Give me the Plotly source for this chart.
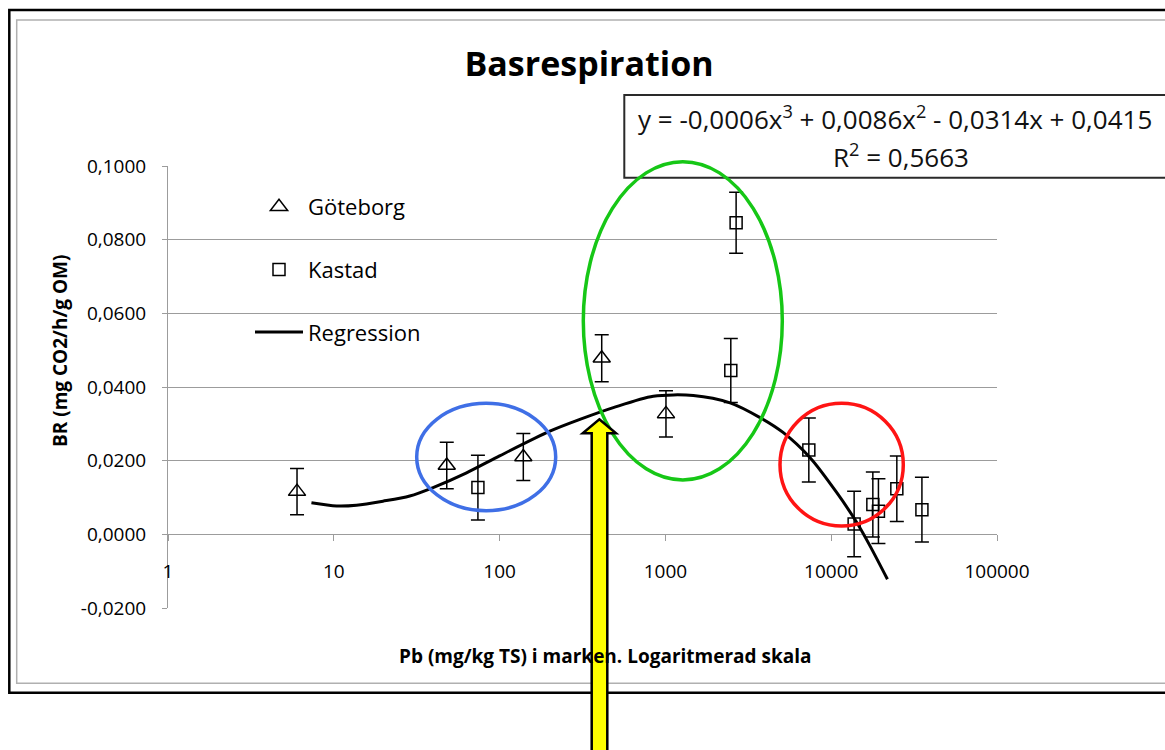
import plotly.graph_objects as go

# ---------------- data ----------------
goteborg_x = [6, 48, 139, 413, 1008]
goteborg_y = [0.0116, 0.0187, 0.0210, 0.0478, 0.0327]
goteborg_err = [0.0063, 0.0063, 0.0064, 0.0064, 0.0063]

kastad_x = [74, 2480, 2670, 7330, 13750, 17830, 19270, 24880, 35250]
kastad_y = [0.0127, 0.0445, 0.0846, 0.0229, 0.0028, 0.0081, 0.0063, 0.0124, 0.0067]
kastad_err = [0.0088, 0.0087, 0.0083, 0.0087, 0.0089, 0.0088, 0.0088, 0.0089, 0.0088]

regression_x = [7.33, 10.4, 13.7, 19.8, 28.7, 39.7, 63.2, 100, 201, 305, 485,
                845, 1474, 2455, 3724, 5146, 7460, 10810, 14270, 17170, 21840]
regression_y = [0.0086, 0.0077, 0.0079, 0.0090, 0.0104, 0.0127, 0.0167, 0.0213,
                0.0280, 0.0312, 0.0344, 0.0375, 0.0377, 0.0357, 0.0317, 0.0276,
                0.0208, 0.0113, 0.0032, -0.0032, -0.0122]

x_tickvals = [1, 10, 100, 1000, 10000, 100000]
x_ticktext = ["1", "10", "100", "1000", "10000", "100000"]
y_tickvals = [-0.02, 0.0, 0.02, 0.04, 0.06, 0.08, 0.10]
y_ticktext = ["-0,0200", "0,0000", "0,0200", "0,0400", "0,0600", "0,0800", "0,1000"]

title_text = "Basrespiration"
x_title = "Pb (mg/kg TS) i marken. Logaritmerad skala"
y_title = "BR (mg CO2/h/g OM)"
eq_line1 = "y = -0,0006x<sup>3</sup> + 0,0086x<sup>2</sup> - 0,0314x + 0,0415"
eq_line2 = "R<sup>2</sup> = 0,5663"

# ---------------- layout geometry ----------------
W, H = 1165, 750
L, R, T, B = 168, 168, 166, 142
PW = W - L - R
PH = H - T - B
FONT = "Open Sans"
GRID = "#9c9c9c"


def px2x(px):
    return (px - L) / PW


def py2y(py):
    return (H - B - py) / PH


fig = go.Figure()

fig.add_trace(go.Scatter(
    x=goteborg_x, y=goteborg_y, mode="markers", name="Göteborg",
    legendgroup="g",
    marker=dict(symbol="triangle-up-open", size=15, color="black",
                line=dict(width=1.5, color="black")),
    error_y=dict(type="data", array=goteborg_err, visible=True,
                 color="black", thickness=1.5, width=7),
))
fig.add_trace(go.Scatter(
    x=kastad_x, y=kastad_y, mode="markers", name="Kastad",
    legendgroup="k",
    marker=dict(symbol="square-open", size=12, color="black",
                line=dict(width=1.5, color="black")),
    error_y=dict(type="data", array=kastad_err, visible=True,
                 color="black", thickness=1.5, width=7),
))
fig.add_trace(go.Scatter(
    x=regression_x, y=regression_y, mode="lines", name="Regression",
    legendgroup="r",
    line=dict(color="black", width=3, shape="spline", smoothing=0.8),
))

shapes = []
# outer frame
shapes.append(dict(type="rect", xref="paper", yref="paper",
                   x0=px2x(9.3), x1=px2x(1185), y0=py2y(10), y1=py2y(692.7),
                   line=dict(color="black", width=2.5), layer="below"))
shapes.append(dict(type="rect", xref="paper", yref="paper",
                   x0=px2x(16.7), x1=px2x(1185), y0=py2y(20), y1=py2y(683.3),
                   line=dict(color="#b0b0b0", width=1.5), layer="below"))
# white area behind the legend (hides gridlines)
shapes.append(dict(type="rect", xref="paper", yref="paper",
                   x0=px2x(182), x1=px2x(494), y0=py2y(178), y1=py2y(365),
                   fillcolor="white", line=dict(width=0), layer="between"))
# equation box
shapes.append(dict(type="rect", xref="paper", yref="paper",
                   x0=px2x(612), x1=px2x(1185), y0=py2y(90), y1=py2y(180),
                   fillcolor="white", line=dict(width=0), layer="above"))
shapes.append(dict(type="rect", xref="paper", yref="paper",
                   x0=px2x(624.3), x1=px2x(1185), y0=py2y(95), y1=py2y(177.7),
                   fillcolor="white", line=dict(color="#2a2a2a", width=2), layer="above"))
# ellipses
shapes.append(dict(type="circle", xref="paper", yref="paper",
                   x0=px2x(416.7), x1=px2x(555.7), y0=py2y(403.3), y1=py2y(510.7),
                   line=dict(color="#3f6fe6", width=3.5), layer="above"))
shapes.append(dict(type="circle", xref="paper", yref="paper",
                   x0=px2x(583.3), x1=px2x(782.3), y0=py2y(161.7), y1=py2y(480),
                   line=dict(color="#16c716", width=3.5), layer="above"))
shapes.append(dict(type="circle", xref="paper", yref="paper",
                   x0=px2x(780), x1=px2x(903.3), y0=py2y(403.3), y1=py2y(526),
                   line=dict(color="#ff1414", width=3.5), layer="above"))
# yellow arrow
pts = [(599.3, 419.3), (616, 433.3), (607.3, 433.3), (607.3, 770),
       (591.7, 770), (591.7, 433.3), (582.7, 433.3)]
path = "M " + " L ".join(f"{px2x(a):.5f},{py2y(b):.5f}" for a, b in pts) + " Z"
shapes.append(dict(type="path", xref="paper", yref="paper", path=path,
                   fillcolor="#ffff00", line=dict(color="black", width=2.5),
                   layer="above"))

annotations = [
    dict(text=x_title, xref="paper", yref="paper", x=px2x(605.7), y=py2y(656),
         xanchor="center", yanchor="middle", showarrow=False,
         font=dict(family=FONT, size=19, color="black", weight=700)),
    dict(text=y_title, xref="paper", yref="paper", x=px2x(60), y=py2y(351),
         xanchor="center", yanchor="middle", showarrow=False, textangle=-90,
         font=dict(family=FONT, size=19, color="black", weight=700)),
    dict(text=eq_line1, xref="paper", yref="paper", x=px2x(895), y=py2y(118.3),
         xanchor="center", yanchor="middle", showarrow=False,
         font=dict(family=FONT, size=26, color="#111111")),
    dict(text=eq_line2, xref="paper", yref="paper", x=px2x(901), y=py2y(155.7),
         xanchor="center", yanchor="middle", showarrow=False,
         font=dict(family=FONT, size=26, color="#111111")),
]

fig.update_layout(
    width=W, height=H,
    margin=dict(l=L, r=R, t=T, b=B, pad=0),
    paper_bgcolor="white", plot_bgcolor="white",
    font=dict(family=FONT, color="black"),
    title=dict(text=title_text, x=589 / W, xanchor="center", xref="container",
               y=1 - 64 / H, yanchor="middle", yref="container",
               font=dict(family=FONT, size=34, color="black", weight=700)),
    showlegend=True,
    legend=dict(x=px2x(250), y=py2y(186), xanchor="left", yanchor="top",
                bgcolor="rgba(0,0,0,0)", borderwidth=0,
                font=dict(family=FONT, size=22, color="black"),
                traceorder="grouped", tracegroupgap=31, itemwidth=48),
    xaxis=dict(type="log", range=[0, 5], anchor="free",
               position=(0 - (-0.02)) / 0.12,
               showgrid=False, zeroline=False, showline=False,
               ticks="outside", ticklen=6, tickcolor=GRID, tickwidth=1,
               tickvals=x_tickvals, ticktext=x_ticktext,
               ticklabelstandoff=14,
               tickfont=dict(family=FONT, size=19, color="black")),
    yaxis=dict(range=[-0.02, 0.10], showgrid=True, gridcolor=GRID, gridwidth=1,
               zeroline=False, showline=True, linecolor=GRID, linewidth=1,
               ticks="outside", ticklen=5, tickcolor=GRID,
               tickvals=y_tickvals, ticktext=y_ticktext,
               ticklabelstandoff=12,
               tickfont=dict(family=FONT, size=19, color="black")),
    shapes=shapes,
    annotations=annotations,
)

fig.write_html("out.html",
               config={"displayModeBar": False},
               post_script="document.body.style.margin='0px';"
                           "document.body.style.padding='0px';")
